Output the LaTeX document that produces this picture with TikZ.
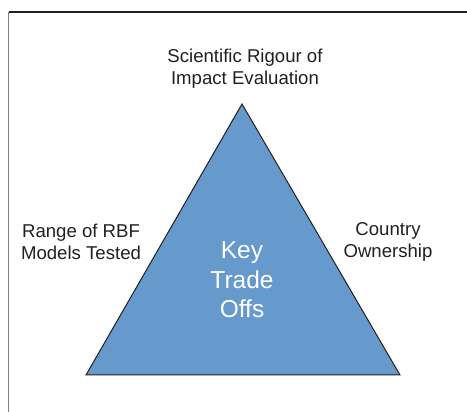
\documentclass[tikz,border=0pt]{standalone}
\usepackage{fontspec}
\setmainfont{Liberation Sans}
\definecolor{tradeblue}{HTML}{6699CC}
\definecolor{inkgray}{HTML}{231F20}
\begin{document}
\begin{tikzpicture}[x=1pt,y=1pt,
    label text/.style={text=inkgray, align=center, inner sep=0pt,
        font=\fontsize{18.6}{22}\selectfont},
    centre text/.style={text=white, align=center, inner sep=0pt,
        font=\fontsize{24.5}{29.5}\selectfont}]
    \useasboundingbox (0,0) rectangle (467,412);

    % Define coordinates for the frame and the triangle
    \coordinate (frameBL) at (8.5,0);
    \coordinate (frameTL) at (8.5,400);
    \coordinate (frameTR) at (467,400);
    \coordinate (apex) at (242,308);
    \coordinate (baseL) at (86,37);
    \coordinate (baseR) at (400,37);

    % Frame, only the left and top sides show
    \draw[line width=1.4pt, gray] (frameBL) -- (frameTL);
    \draw[line width=1.1pt, inkgray] (frameTL) -- (frameTR);

    % Draw the triangle
    \draw[fill=tradeblue, draw=inkgray, line width=1pt, line join=miter]
        (apex) -- (baseR) -- (baseL) -- cycle;

    % Labels for the corners
    \node[label text] (rigour) at (245,343) {Scientific Rigour of\\Impact Evaluation};
    \node[label text] (range) at (81,170) {Range of RBF\\Models Tested};
    \node[label text] (owner) at (388,170) {Country\\Ownership};

    % Label in the middle
    \node[centre text] (tradeoffs) at (242,132) {Key\\Trade\\Offs};
\end{tikzpicture}
\end{document}
